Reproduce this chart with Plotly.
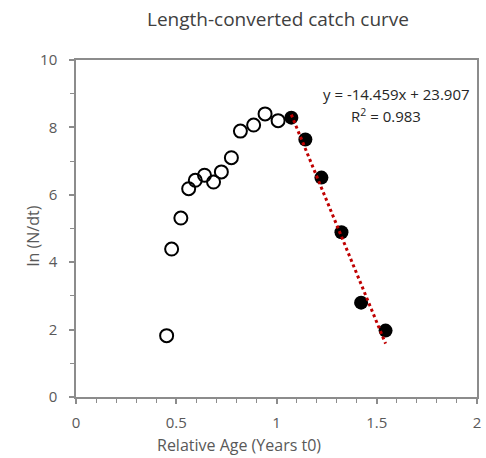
import plotly.graph_objects as go

# Open circles (not used in the regression)
open_x = [0.452, 0.477, 0.523, 0.562, 0.595, 0.641, 0.686, 0.725, 0.775, 0.820, 0.886, 0.943, 1.008]
open_y = [1.82, 4.39, 5.31, 6.18, 6.43, 6.58, 6.38, 6.68, 7.10, 7.89, 8.07, 8.40, 8.20]

# Filled circles (used in the regression)
fit_x = [1.074, 1.144, 1.224, 1.324, 1.422, 1.544]
fit_y = [8.29, 7.64, 6.51, 4.89, 2.80, 1.97]

slope = -14.459
intercept = 23.907
r2 = 0.983

x_ticks = [0, 0.5, 1, 1.5, 2]
x_tick_labels = ["0", "0.5", "1", "1.5", "2"]
y_ticks = [0, 2, 4, 6, 8, 10]

trend_x = [min(fit_x), max(fit_x)]
trend_y = [slope * v + intercept for v in trend_x]

FONT = "Open Sans"
GRAY = "#595959"
AX = "#8c8c8c"

fig = go.Figure()
fig.add_trace(go.Scatter(
    x=open_x, y=open_y, mode="markers",
    marker=dict(symbol="circle-open", size=13, color="black", line=dict(width=2, color="black")),
    showlegend=False))
fig.add_trace(go.Scatter(
    x=fit_x, y=fit_y, mode="markers",
    marker=dict(symbol="circle", size=14, color="black", line=dict(width=0)),
    showlegend=False))
fig.add_trace(go.Scatter(
    x=trend_x, y=trend_y, mode="lines",
    line=dict(color="#c00000", width=3, dash="dot"),
    showlegend=False))

fig.update_layout(
    width=486, height=458,
    margin=dict(l=76, r=5, t=60, b=61),
    paper_bgcolor="white", plot_bgcolor="white",
    font=dict(family=FONT, color=GRAY, size=14),
    title=dict(text="Length-converted catch curve", x=(278 / 486), xanchor="center",
               y=1 - 19 / 458, yanchor="middle", font=dict(family=FONT, size=19, color="#404040")),
    xaxis=dict(range=[0, 2], tickvals=x_ticks, ticktext=x_tick_labels,
               showgrid=False, zeroline=False, showline=True, linecolor=AX, linewidth=1.5,
               mirror=True, ticks="outside", ticklen=5, tickcolor=AX, tickwidth=1.5,
               ticklabelstandoff=6,
               minor=dict(dtick=0.1, ticks="outside", ticklen=4, tickcolor=AX, tickwidth=1.2, showgrid=False),
               tickfont=dict(size=15, color=GRAY)),
    yaxis=dict(range=[0, 10], tickvals=y_ticks,
               showgrid=False, zeroline=False, showline=True, linecolor=AX, linewidth=1.5,
               mirror=True, ticks="outside", ticklen=5, tickcolor=AX, tickwidth=1.5,
               ticklabelstandoff=9,
               minor=dict(dtick=1, ticks="outside", ticklen=4, tickcolor=AX, tickwidth=1.2, showgrid=False),
               tickfont=dict(size=15, color=GRAY)),
)

fig.add_annotation(text="Relative Age (Years t0)", xref="paper", yref="paper",
                   x=(241 - 76) / 405, y=-(445 - 397) / 337, xanchor="center", yanchor="middle",
                   showarrow=False, font=dict(size=16, color=GRAY))
fig.add_annotation(text="ln (N/dt)", xref="paper", yref="paper",
                   x=-(76 - 33) / 405, y=(397 - 236) / 337, xanchor="center", yanchor="middle",
                   textangle=-90, showarrow=False, font=dict(size=16, color=GRAY))
fig.add_annotation(text=f"y = {slope}x + {intercept}", xref="paper", yref="paper",
                   x=(400 - 76) / 405, y=(397 - 94) / 337, xanchor="center", yanchor="middle",
                   showarrow=False, font=dict(size=15, color="#262626"))
fig.add_annotation(text=f"R<sup>2</sup> = {r2}", xref="paper", yref="paper",
                   x=(389 - 76) / 405, y=(397 - 115) / 337, xanchor="center", yanchor="middle",
                   showarrow=False, font=dict(size=15, color="#262626"))

fig.write_html("out.html")
